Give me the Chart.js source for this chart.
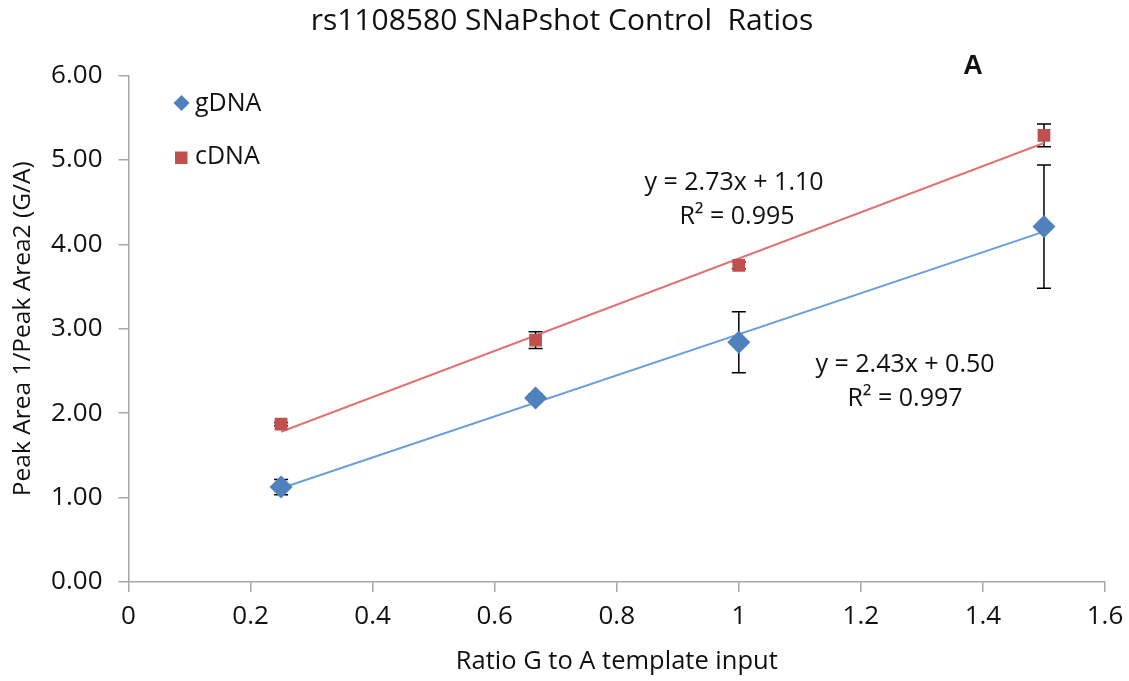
<!DOCTYPE html>
<html>
<head>
<meta charset="utf-8">
<script src="https://cdn.jsdelivr.net/npm/chart.js@4"></script>
<style>
  html, body { margin: 0; padding: 0; background: #fff; }
  #wrap { width: 1129px; height: 681px; }
</style>
</head>
<body>
<div id="wrap"><canvas id="c" width="1129" height="681"></canvas></div>
<script>
// ---- data ----
const xValues = [0.25, 0.667, 1.0, 1.5];
const gDNA = [1.125, 2.18, 2.84, 4.21];
const gDNAErr = [0.09, 0.05, 0.36, 0.73];
const cDNA = [1.87, 2.865, 3.75, 5.29];
const cDNAErr = [0.02, 0.10, 0.04, 0.135];
const trendX = [0.25, 1.5];
const gTrendY = [1.11, 4.15];
const cTrendY = [1.78, 5.20];
const xTicks = [0, 0.2, 0.4, 0.6, 0.8, 1, 1.2, 1.4, 1.6];
const yTicks = [0, 1, 2, 3, 4, 5, 6];
const titleText = 'rs1108580 SNaPshot Control  Ratios';
const xTitle = 'Ratio G to A template input';
const yTitle = 'Peak Area 1/Peak Area2 (G/A)';
const gEq = ['y = 2.43x + 0.50', 'R\u00B2 = 0.997'];
const cEq = ['y = 2.73x + 1.10', 'R\u00B2 = 0.995'];
const seriesNames = ['gDNA', 'cDNA'];

const FONT = '"Open Sans", Lato, sans-serif';
const BLUE = '#4f81bd', RED = '#c0504d';
const BLUE_LINE = '#6a9fd8', RED_LINE = '#e07474';
const AXIS = '#a6a6a6';

const pts = (xs, ys) => xs.map((x, i) => ({ x: x, y: ys[i] }));

const errorBars = {
  id: 'errorBars',
  beforeDatasetsDraw(chart) {
    const { ctx, scales: { x, y } } = chart;
    ctx.save();
    ctx.strokeStyle = '#000';
    ctx.lineWidth = 1.5;
    const draw = (vals, errs) => {
      vals.forEach((v, i) => {
        const px = x.getPixelForValue(xValues[i]);
        const top = y.getPixelForValue(v + errs[i]);
        const bot = y.getPixelForValue(v - errs[i]);
        ctx.beginPath();
        ctx.moveTo(px, top); ctx.lineTo(px, bot);
        ctx.moveTo(px - 7, top); ctx.lineTo(px + 7, top);
        ctx.moveTo(px - 7, bot); ctx.lineTo(px + 7, bot);
        ctx.stroke();
      });
    };
    draw(gDNA, gDNAErr);
    draw(cDNA, cDNAErr);
    ctx.restore();
  }
};

const annotations = {
  id: 'annotations',
  afterDraw(chart) {
    const { ctx } = chart;
    ctx.save();
    ctx.fillStyle = '#111';
    ctx.textBaseline = 'middle';
    // title
    ctx.textAlign = 'center';
    ctx.font = '30px ' + FONT;
    ctx.fillText(titleText, 562, 21);
    // panel letter
    ctx.font = 'bold 27px "Liberation Sans", Arial, sans-serif';
    ctx.fillText('A', 973, 67);
    // equations
    ctx.font = '25px ' + FONT;
    ctx.fillText(cEq[0], 734, 183);
    ctx.fillText(cEq[1], 737, 217);
    ctx.fillText(gEq[0], 905, 365);
    ctx.fillText(gEq[1], 905, 399);
    // legend
    ctx.textAlign = 'left';
    ctx.font = '25px ' + FONT;
    ctx.fillText(seriesNames[0], 195, 104);
    ctx.fillText(seriesNames[1], 195, 157);
    ctx.fillStyle = BLUE;
    ctx.beginPath();
    ctx.moveTo(181.5, 95); ctx.lineTo(189.5, 103); ctx.lineTo(181.5, 111); ctx.lineTo(173.5, 103);
    ctx.closePath(); ctx.fill();
    ctx.fillStyle = RED;
    ctx.fillRect(175, 151.5, 12.5, 12.5);
    ctx.restore();
  }
};

new Chart(document.getElementById('c'), {
  type: 'scatter',
  data: {
    datasets: [
      { label: 'gDNA trend', data: pts(trendX, gTrendY), showLine: true, borderColor: BLUE_LINE,
        borderWidth: 2, pointRadius: 0, order: 3 },
      { label: 'cDNA trend', data: pts(trendX, cTrendY), showLine: true, borderColor: RED_LINE,
        borderWidth: 2, pointRadius: 0, order: 3 },
      { label: seriesNames[0], data: pts(xValues, gDNA), pointStyle: 'rectRot', pointRadius: 11.5,
        backgroundColor: BLUE, borderColor: BLUE, borderWidth: 0, order: 1 },
      { label: seriesNames[1], data: pts(xValues, cDNA), pointStyle: 'rect', pointRadius: 9,
        backgroundColor: RED, borderColor: RED, borderWidth: 0, order: 1 }
    ]
  },
  options: {
    responsive: false,
    animation: false,
    layout: { padding: { left: 0, right: 24, top: 75.5, bottom: 0 } },
    plugins: { legend: { display: false }, tooltip: { enabled: false }, title: { display: false } },
    scales: {
      x: {
        type: 'linear', min: 0, max: 1.6,
        afterBuildTicks: (s) => { s.ticks = xTicks.map(v => ({ value: v })); },
        afterFit: (s) => { s.height = 99; s.paddingLeft = 0; s.paddingRight = 0; },
        grid: { display: true, drawOnChartArea: false, drawTicks: true, tickLength: 10, color: AXIS, lineWidth: 1.5 },
        border: { display: true, color: AXIS, width: 1.5 },
        ticks: { color: '#111', font: { family: FONT, size: 26 }, padding: 9,
          callback: (v) => String(+v.toFixed(1)) },
        title: { display: true, text: xTitle, color: '#111', font: { family: FONT, size: 25.5 },
          padding: { top: 0, bottom: 4 } }
      },
      y: {
        type: 'linear', min: 0, max: 6,
        afterBuildTicks: (s) => { s.ticks = yTicks.map(v => ({ value: v })); },
        afterFit: (s) => { s.width = 128.5; s.paddingTop = 0; s.paddingBottom = 0; },
        grid: { display: true, drawOnChartArea: false, drawTicks: true, tickLength: 10, color: AXIS, lineWidth: 1.5 },
        border: { display: true, color: AXIS, width: 1.5 },
        ticks: { color: '#111', font: { family: FONT, size: 26 }, padding: 16,
          callback: (v) => v.toFixed(2) },
        title: { display: true, text: yTitle, color: '#111', font: { family: FONT, size: 24.5 },
          padding: { top: 8, bottom: 0 } }
      }
    }
  },
  plugins: [errorBars, annotations]
});
</script>
</body>
</html>
